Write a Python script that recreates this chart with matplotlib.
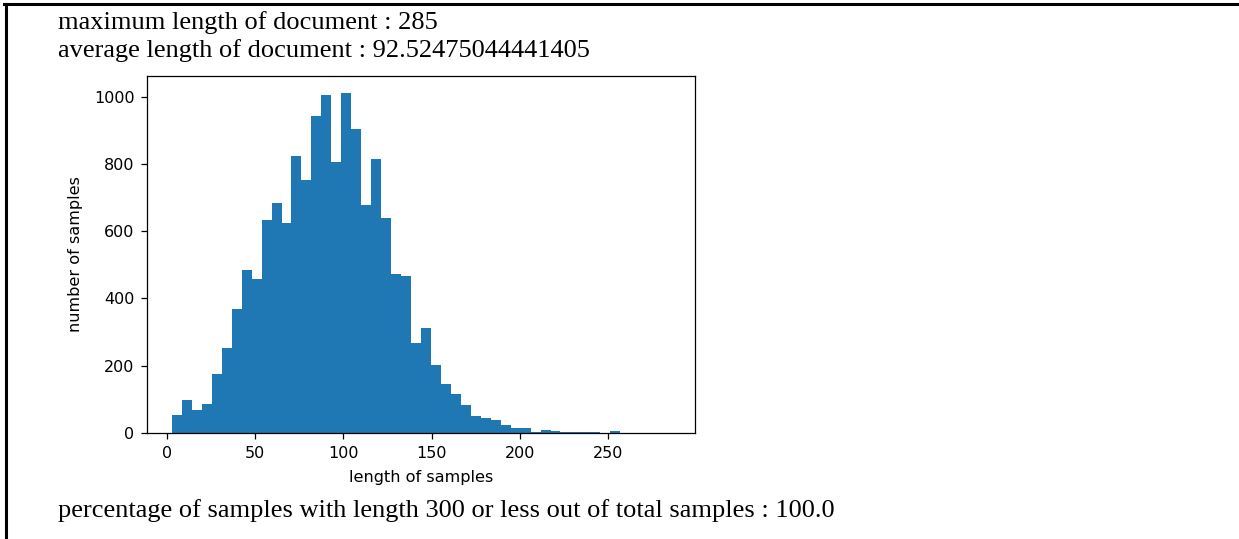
import matplotlib
matplotlib.use("Agg")
import matplotlib.pyplot as plt
import numpy as np
from matplotlib.lines import Line2D

# Histogram data (50 bins from min length to max length)
min_len = 3
max_len = 285
counts = [55, 97, 68, 87, 176, 254, 368, 484, 459, 634,
          684, 624, 825, 752, 942, 1006, 806, 1011, 903, 678,
          815, 639, 474, 468, 268, 313, 201, 147, 117, 84,
          50, 45, 40, 25, 15, 15, 4, 10, 5, 4,
          4, 4, 4, 0, 5, 0, 0, 0, 0, 1]
x_label = "length of samples"
y_label = "number of samples"
line_max = "maximum length of document : 285"
line_avg = "average length of document : 92.52475044441405"
line_pct = "percentage of samples with length 300 or less out of total samples : 100.0"

W, H = 1239, 539
fig = plt.figure(figsize=(W / 100, H / 100), dpi=100)

edges = np.linspace(min_len, max_len, len(counts) + 1)
centers = (edges[:-1] + edges[1:]) / 2

ax = fig.add_axes([147 / W, 1 - 433 / H, 548 / W, 357 / H])
ax.hist(centers, bins=edges, weights=counts, color="#1f77b4")
ax.set_xlabel(x_label, fontsize=11.6, family="DejaVu Sans", labelpad=6.5)
ax.set_ylabel(y_label, fontsize=11.6, family="DejaVu Sans", labelpad=7.5)
ax.tick_params(labelsize=11.5, length=4.5, width=0.9, pad=4.5)
for s in ax.spines.values():
    s.set_linewidth(0.9)
ax.set_yticks([0, 200, 400, 600, 800, 1000])
ax.set_xticks([0, 50, 100, 150, 200, 250])

serif = ["Liberation Serif", "DejaVu Serif"]
fig.text(58 / W, 1 - 29.3 / H, line_max, family=serif, fontsize=19, ha="left", va="baseline")
fig.text(58 / W, 1 - 56.7 / H, line_avg, family=serif, fontsize=19, ha="left", va="baseline")
fig.text(58 / W, 1 - 516.7 / H, line_pct, family=serif, fontsize=19, ha="left", va="baseline")

# cell border lines
fig.add_artist(Line2D([4 / W, 1.0], [1 - 3.8 / H, 1 - 3.8 / H], color="black", lw=2.2, transform=fig.transFigure))
fig.add_artist(Line2D([5.5 / W, 5.5 / W], [1 - 3.8 / H, 0.0], color="black", lw=2.2, transform=fig.transFigure))

fig.savefig("out.png", dpi=100)
